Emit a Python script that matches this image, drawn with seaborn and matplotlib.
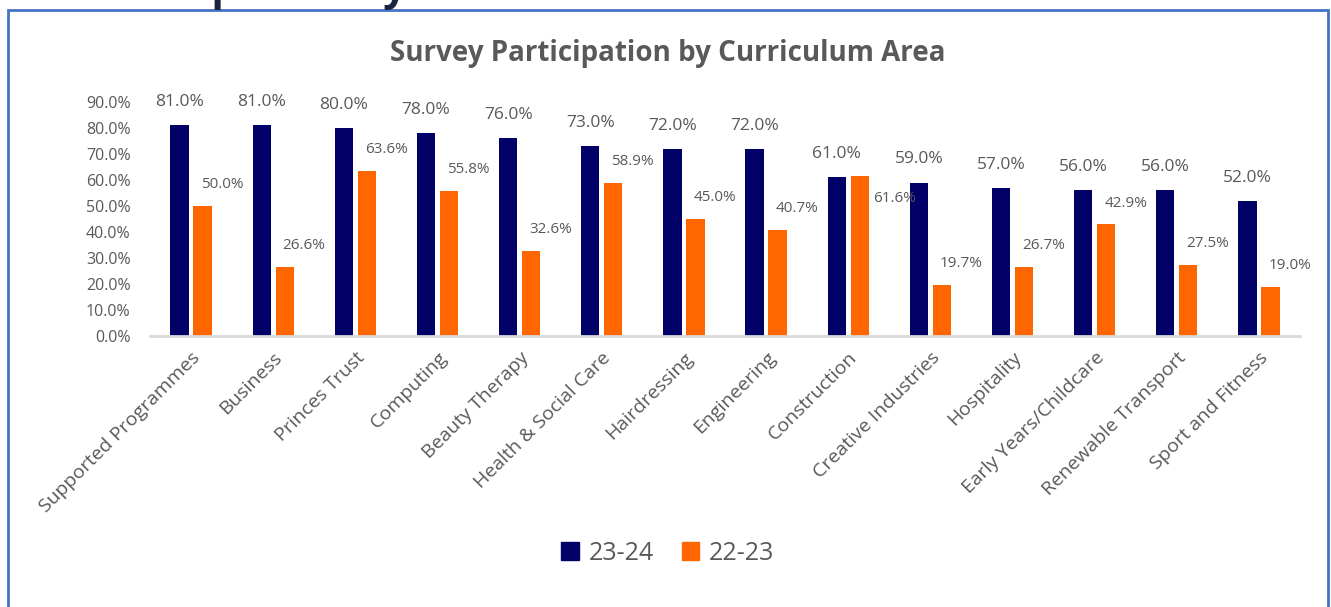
import matplotlib
matplotlib.use("Agg")
import matplotlib.pyplot as plt
from matplotlib.patches import Rectangle
import seaborn as sns
import pandas as pd

categories = ["Supported Programmes", "Business", "Princes Trust", "Computing",
              "Beauty Therapy", "Health & Social Care", "Hairdressing", "Engineering",
              "Construction", "Creative Industries", "Hospitality", "Early Years/Childcare",
              "Renewable Transport", "Sport and Fitness"]
series_names = ["23-24", "22-23"]
values_2324 = [81.0, 81.0, 80.0, 78.0, 76.0, 73.0, 72.0, 72.0, 61.0, 59.0, 57.0, 56.0, 56.0, 52.0]
values_2223 = [50.0, 26.6, 63.6, 55.8, 32.6, 58.9, 45.0, 40.7, 61.6, 19.7, 26.7, 42.9, 27.5, 19.0]
yticks = [0, 10, 20, 30, 40, 50, 60, 70, 80, 90]

NAVY = "#000066"
ORANGE = "#FF6600"
GREY = "#595959"
FONT = ["Open Sans", "DejaVu Sans"]

df = pd.DataFrame({
    "Area": categories * 2,
    "Series": [series_names[0]] * len(categories) + [series_names[1]] * len(categories),
    "Value": values_2324 + values_2223,
})

sns.set_theme(style="white")
plt.rcParams["font.family"] = FONT

W, H = 1331, 607
fig = plt.figure(figsize=(W / 100, H / 100), dpi=100)
ax = fig.add_axes([150 / W, 1 - 336 / H, (1300 - 150) / W, (336 - 102) / H])

sns.barplot(data=df, x="Area", y="Value", hue="Series", order=categories,
            hue_order=series_names, palette=[NAVY, ORANGE], width=0.56, gap=0.2,
            saturation=1, linewidth=0, ax=ax, legend=False)

ax.set_ylim(0, 90)
ax.set_xlim(-0.5, len(categories) - 0.5)
ax.set_yticks(yticks)
ax.set_yticklabels([f"{v:.1f}%" for v in yticks], color=GREY, fontsize=11.5)
ax.tick_params(axis="y", length=0, pad=14)
ax.tick_params(axis="x", length=0, pad=9)
ax.set_xticks(range(len(categories)))
ax.set_xticklabels(categories, rotation=45, ha="right", rotation_mode="anchor",
                   color=GREY, fontsize=14)
ax.set_xlabel("")
ax.set_ylabel("")
for s in ["top", "right", "left"]:
    ax.spines[s].set_visible(False)
ax.spines["bottom"].set_color("#D9D9D9")
ax.spines["bottom"].set_linewidth(2)

# data labels
c0, c1 = ax.containers[0], ax.containers[1]
for bar, v in zip(c0, values_2324):
    ax.annotate(f"{v:.1f}%", (bar.get_x() + bar.get_width() / 2, v),
                xytext=(0, 11), textcoords="offset points", ha="center", va="bottom",
                fontsize=12.5, color=GREY, annotation_clip=False)
for i, (bar, v) in enumerate(zip(c1, values_2223)):
    off = (25, -22) if categories[i] == "Construction" else (14, 10)
    ax.annotate(f"{v:.1f}%", (bar.get_x() + bar.get_width() / 2, v),
                xytext=off, textcoords="offset points", ha="center", va="bottom",
                fontsize=11, color=GREY, annotation_clip=False)

# title
fig.text(668 / W, 1 - 53 / H, "Survey Participation by Curriculum Area", ha="center",
         va="center", fontsize=20, fontweight="bold", color=GREY)

# legend
handles = [Rectangle((0, 0), 1, 1, color=NAVY), Rectangle((0, 0), 1, 1, color=ORANGE)]
fig.legend(handles, series_names, loc="center", bbox_to_anchor=(668 / W, 1 - 553 / H),
           ncol=2, frameon=False, fontsize=18, handlelength=0.7, handleheight=0.7,
           handletextpad=0.4, columnspacing=1.1, labelcolor=GREY)

# frame border
fig.patches.append(Rectangle((8 / W, -0.2), (1328 - 8) / W, 1.2 - 10 / H,
                             transform=fig.transFigure, fill=False,
                             edgecolor="#4472C4", linewidth=2))

# cropped heading above the chart
fig.text(-98 / W, 1 + 0 / H, "Learner Participation by Curriculum Area", ha="left",
         va="baseline", fontsize=30, fontweight="bold", color="#1C2340")

fig.savefig("out.png", dpi=100)
